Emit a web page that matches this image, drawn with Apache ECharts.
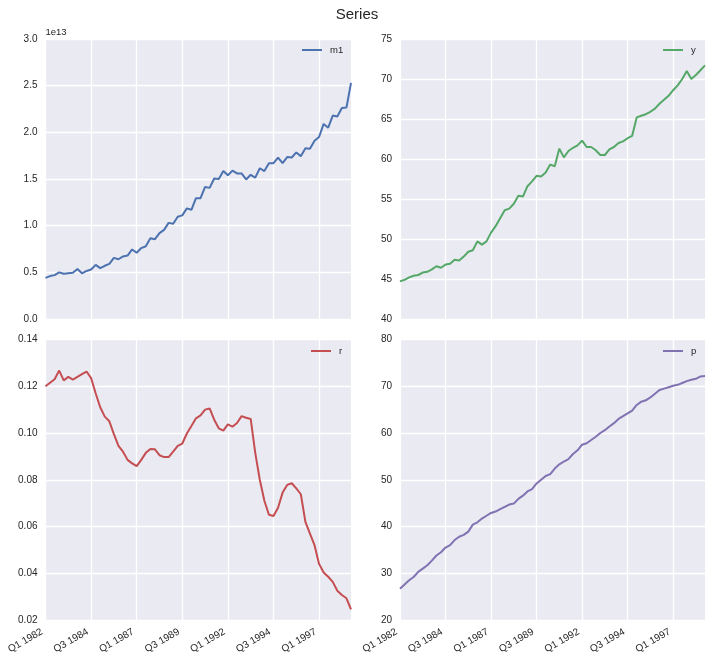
<!DOCTYPE html>
<html><head><meta charset="utf-8">
<style>html,body{margin:0;padding:0;background:#fff}#c{width:712px;height:661px}</style>
<script src="https://cdn.jsdelivr.net/npm/echarts@6/dist/echarts.min.js"></script>
</head><body><div id="c"></div>
<script>
const categories = [
"Q1 1982","Q2 1982","Q3 1982","Q4 1982","Q1 1983","Q2 1983","Q3 1983","Q4 1983",
"Q1 1984","Q2 1984","Q3 1984","Q4 1984","Q1 1985","Q2 1985","Q3 1985","Q4 1985",
"Q1 1986","Q2 1986","Q3 1986","Q4 1986","Q1 1987","Q2 1987","Q3 1987","Q4 1987",
"Q1 1988","Q2 1988","Q3 1988","Q4 1988","Q1 1989","Q2 1989","Q3 1989","Q4 1989",
"Q1 1990","Q2 1990","Q3 1990","Q4 1990","Q1 1991","Q2 1991","Q3 1991","Q4 1991",
"Q1 1992","Q2 1992","Q3 1992","Q4 1992","Q1 1993","Q2 1993","Q3 1993","Q4 1993",
"Q1 1994","Q2 1994","Q3 1994","Q4 1994","Q1 1995","Q2 1995","Q3 1995","Q4 1995",
"Q1 1996","Q2 1996","Q3 1996","Q4 1996","Q1 1997","Q2 1997","Q3 1997","Q4 1997",
"Q1 1998","Q2 1998","Q3 1998","Q4 1998"];
const m1 = [0.44,0.46,0.47,0.50,0.485,0.49,0.495,0.535,0.49,0.515,0.53,0.58,0.545,0.57,0.59,0.655,0.64,0.67,0.68,0.745,
0.71,0.76,0.78,0.865,0.855,0.92,0.955,1.03,1.02,1.095,1.11,1.185,1.17,1.295,1.295,1.415,1.405,1.505,1.50,1.585,
1.54,1.59,1.56,1.56,1.495,1.545,1.515,1.615,1.585,1.67,1.67,1.73,1.67,1.735,1.73,1.785,1.745,1.83,1.825,1.91,
1.95,2.09,2.05,2.18,2.17,2.26,2.265,2.53].map(v => v * 1e13);
const y = [44.7,44.9,45.2,45.4,45.5,45.8,45.9,46.2,46.6,46.4,46.8,46.9,47.4,47.3,47.8,48.4,48.6,49.7,49.3,49.7,
50.8,51.6,52.6,53.6,53.8,54.4,55.4,55.3,56.6,57.2,57.9,57.8,58.3,59.3,59.1,61.3,60.2,61.0,61.4,61.7,
62.3,61.5,61.5,61.1,60.5,60.5,61.2,61.5,62.0,62.2,62.6,62.9,65.2,65.4,65.6,65.9,66.3,66.9,67.4,67.9,
68.6,69.2,70.0,71.0,70.0,70.5,71.1,71.7];
const r = [.120,.1215,.123,.1267,.1225,.124,.1228,.124,.1252,.1263,.1235,.117,.111,.107,.105,.0995,.0945,.092,.0885,.087,
.0858,.0885,.0915,.0932,.093,.0905,.0897,.0897,.092,.0945,.0955,.0998,.103,.1063,.1075,.110,.1105,.1057,.102,.101,
.1037,.1027,.1043,.1072,.1065,.106,.0915,.08,.071,.065,.0645,.068,.0745,.0778,.0785,.0763,.0738,.062,.057,.052,
.044,.0403,.0385,.0363,.0325,.0307,.0293,.0245];
const p = [26.7,27.6,28.5,29.2,30.3,31.0,31.7,32.7,33.8,34.5,35.5,36.0,37.1,37.8,38.2,38.9,40.4,40.9,41.7,42.3,
42.9,43.2,43.7,44.2,44.7,44.9,45.9,46.6,47.5,48.0,49.2,50.0,50.8,51.2,52.4,53.3,53.9,54.4,55.5,56.3,
57.5,57.8,58.5,59.2,60.0,60.6,61.4,62.1,63.0,63.6,64.2,64.8,66.0,66.7,67.0,67.6,68.4,69.2,69.5,69.8,
70.1,70.3,70.7,71.1,71.4,71.6,72.1,72.2];

const names = ["m1","y","r","p"];
const values = [m1,y,r,p];
const colors = ["#4C72B0","#55A868","#C44E52","#8172B2"];
const yMin = [0,40,0.02,20], yMax = [3e13,75,0.14,80], yStep = [5e12,5,0.02,10];
const yFmt = [v => (v/1e13).toFixed(1), v => String(v), v => v.toFixed(2), v => String(v)];
const FONT = '"Liberation Sans", Arial, sans-serif', INK = "#262626";
const boxes = [
  {left:45.5,  top:39,  width:305.5, height:280, lx:302, ly:45},
  {left:400,   top:39,  width:305,   height:280, lx:663, ly:45},
  {left:45.5,  top:339.5,width:305.5,height:280.5, lx:311, ly:346},
  {left:400,   top:339.5,width:305,  height:280.5, lx:663, ly:346}
];
const chart = echarts.init(document.getElementById("c"), null, {renderer:"canvas"});
chart.setOption({
  animation:false,
  backgroundColor:"#fff",
  title:{text:"Series",left:352,top:2,textAlign:"center",textStyle:{fontFamily:FONT,fontSize:15,fontWeight:"normal",color:INK}},
  grid:boxes.map(b=>({left:b.left,top:b.top,width:b.width,height:b.height,backgroundColor:"#EAEAF2",show:true,borderWidth:0,containLabel:false})),
  legend:names.map((n,i)=>({
    data:[n],left:boxes[i].lx,top:boxes[i].ly,itemWidth:20,itemHeight:2,itemGap:0,padding:0,
    icon:"rect",textStyle:{fontFamily:FONT,fontSize:9.5,color:INK,padding:[0,0,0,3]},selectedMode:false
  })),
  xAxis:names.map((n,i)=>({
    type:"category",gridIndex:i,data:categories,boundaryGap:false,
    axisLine:{show:false},axisTick:{show:false},
    axisLabel:{show:i>=2,interval:9,rotate:30,margin:9,fontFamily:FONT,fontSize:10,color:INK,hideOverlap:false,padding:[0,4,0,0]},
    splitLine:{show:true,interval:9,lineStyle:{color:"#fff",width:1.3}}
  })),
  yAxis:names.map((n,i)=>({
    type:"value",gridIndex:i,min:yMin[i],max:yMax[i],interval:yStep[i],
    name:i===0?"1e13":"",nameLocation:"end",nameGap:2,
    nameTextStyle:{fontFamily:FONT,fontSize:9.5,color:INK,align:"left",verticalAlign:"bottom"},
    axisLine:{show:false},axisTick:{show:false},
    axisLabel:{margin:8,fontFamily:FONT,fontSize:10,color:INK,formatter:yFmt[i],padding:i<2?[0,0,3,0]:0},
    splitLine:{show:true,lineStyle:{color:"#fff",width:1.3}}
  })),
  series:names.map((n,i)=>({
    name:n,type:"line",xAxisIndex:i,yAxisIndex:i,data:values[i],
    showSymbol:false,symbol:"none",smooth:false,
    lineStyle:{color:colors[i],width:2},itemStyle:{color:colors[i]}
  }))
});
</script></body></html>
